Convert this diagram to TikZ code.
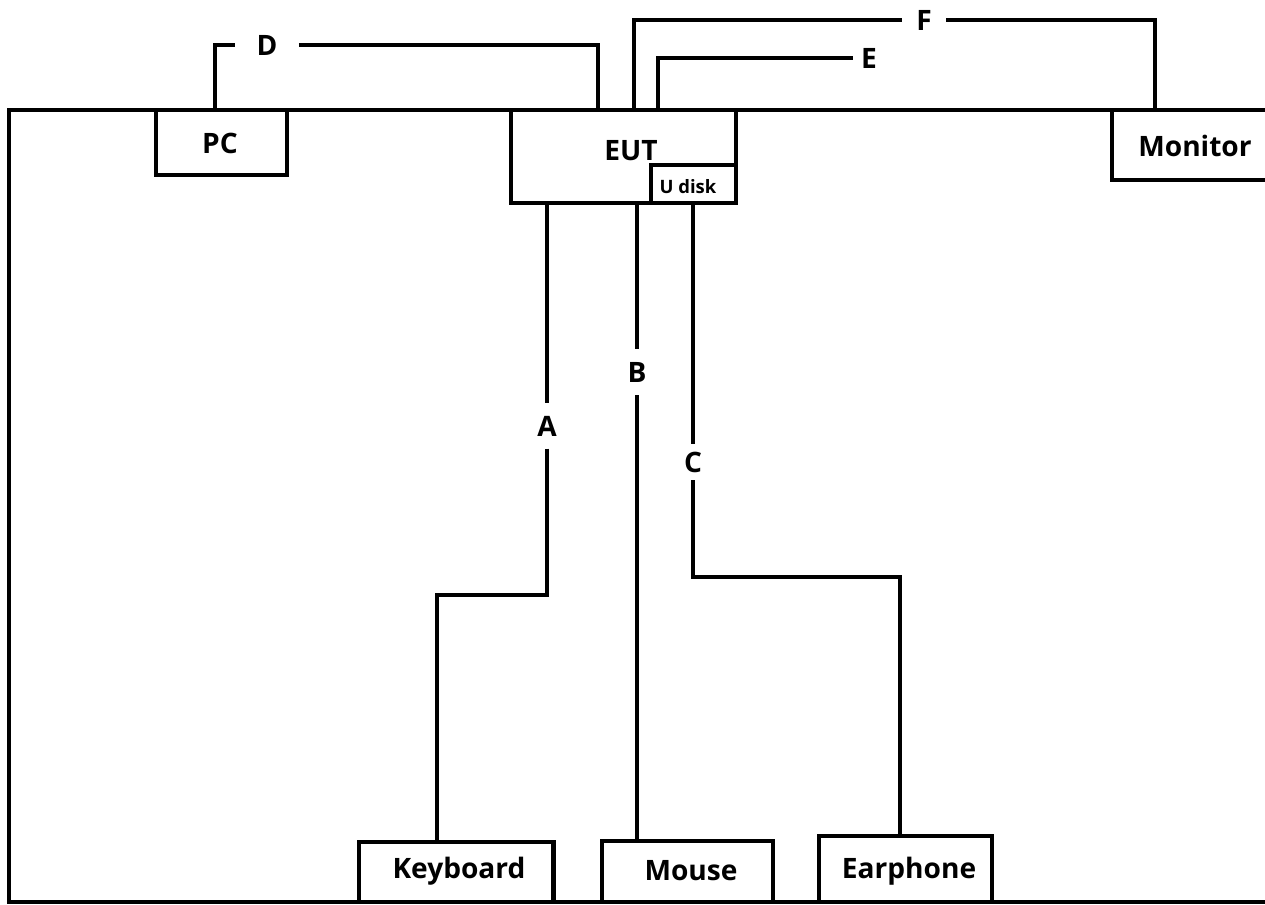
\documentclass[tikz,border=0pt]{standalone}
\usepackage{fontspec}
\setmainfont{Open Sans}

\begin{document}
\begin{tikzpicture}[x=0.02cm,y=-0.02cm,line width=2.3pt,
  unit/.style={draw,inner sep=0pt},
  txt/.style={font=\fontsize{16}{19}\selectfont\bfseries},
  tag/.style={font=\fontsize{16}{19}\selectfont\bfseries,inner sep=4pt}]
  \useasboundingbox (0,0) rectangle (1265,905);
  \clip (0,0) rectangle (1265,905);

  % frame
  \draw (1300,110) -- (9,110) -- (9,902) -- (1300,902);

  % boxes
  \node[unit,minimum width=2.62cm,minimum height=1.30cm] (pc) at (221.5,142.5) {};
  \node[unit,minimum width=4.50cm,minimum height=1.86cm] (eut) at (623.5,156.5) {};
  \node[unit,minimum width=1.70cm,minimum height=0.76cm] (udisk) at (693.5,184) {};
  \node[unit,minimum width=3.36cm,minimum height=1.40cm] (monitor) at (1196,145) {};
  \node[unit,minimum width=3.90cm,minimum height=1.20cm] (keyboard) at (456,872) {};
  \node[unit,minimum width=3.42cm,minimum height=1.22cm] (mouse) at (687.5,871.5) {};
  \node[unit,minimum width=3.46cm,minimum height=1.32cm] (earphone) at (905.5,869) {};

  \node[txt] (pct) at (220,143) {PC};
  \node[txt] (eutt) at (631,151) {EUT};
  \node[font=\fontsize{10.5}{12}\selectfont\bfseries] (udiskt) at (688,187) {U disk};
  \node[txt] (monitort) at (1195,146) {Monitor};
  \node[txt] (keyboardt) at (459,871) {Keyboard};
  \node[txt] (mouset) at (691,871) {Mouse};
  \node[txt] (earphonet) at (909,871) {Earphone};

  % cable labels
  \node[tag,inner ysep=6pt] (A) at (547,426) {A};
  \node[tag,inner ysep=6.5pt] (B) at (637,372) {B};
  \node[tag,inner ysep=3.5pt] (C) at (693,462) {C};
  \node[tag,inner xsep=11pt] (D) at (267,45) {D};
  \node[tag,inner xsep=3.5pt] (E) at (869,58) {E};
  \node[tag,inner xsep=7pt] (F) at (924,20) {F};

  \coordinate (a1) at (547,595);
  \coordinate (a2) at (437,595);
  \coordinate (c1) at (693,577);
  \coordinate (c2) at (900,577);
  \coordinate (d1) at (215,45);
  \coordinate (d2) at (598,45);
  \coordinate (e1) at (658,58);
  \coordinate (f1) at (634,20);
  \coordinate (f2) at (1155,20);

  \draw (A |- eut.south) -- (A) -- (a1) -- (a2) -- (a2 |- keyboard.north);
  \draw (B |- eut.south) -- (B) -- (B |- mouse.north);
  \draw (C |- udisk.south) -- (C) -- (c1) -- (c2) -- (c2 |- earphone.north);
  \draw (d1 |- pc.north) -- (d1) -- (D) -- (d2) -- (d2 |- eut.north);
  \draw (e1 |- eut.north) -- (e1) -- (E);
  \draw (f1 |- eut.north) -- (f1) -- (F) -- (f2) -- (f2 |- monitor.north);
\end{tikzpicture}
\end{document}
